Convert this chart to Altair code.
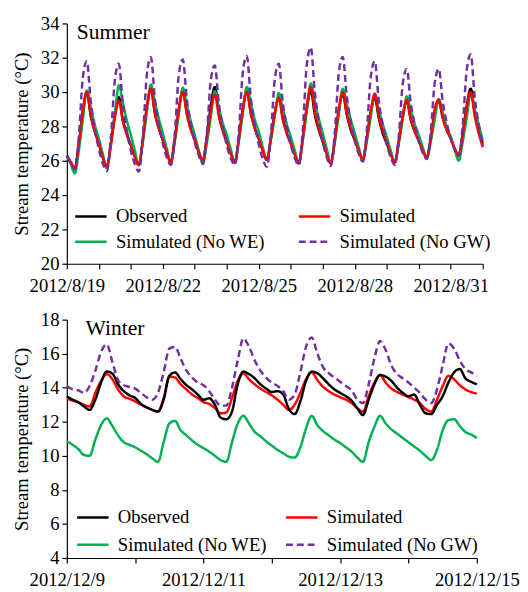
import json
import altair as alt
import numpy as np
import pandas as pd

FONT = "Liberation Serif"

series_names = ["Observed", "Simulated", "Simulated (No WE)", "Simulated (No GW)"]
series_colors = ["#000000", "#FF0000", "#00B050", "#7030A0"]
series_dashes = [[1, 0], [1, 0], [1, 0], [7, 4]]

summer_tick_labels = ["2012/8/19", "2012/8/22", "2012/8/25", "2012/8/28", "2012/8/31"]
winter_tick_labels = ["2012/12/9", "2012/12/11", "2012/12/13", "2012/12/15"]
panel_titles = ["Summer", "Winter"]

# ---- Summer: readings every 3 hours from 2012/8/19 00:00 ----
summer_observed = [
    26.3, 25.9, 25.55, 27.0, 28.9, 30.0, 28.6, 27.7,
    27.0, 26.2, 25.65, 27.0, 28.7, 29.7, 28.4, 27.6,
    26.9, 26.3, 25.75, 27.2, 29.1, 30.2, 28.8, 27.9,
    27.2, 26.5, 25.9, 27.3, 29.0, 30.1, 28.8, 27.9,
    27.2, 26.5, 26.0, 27.4, 29.2, 30.3, 28.9, 27.9,
    27.2, 26.5, 25.9, 27.3, 29.0, 30.1, 28.8, 27.9,
    27.3, 26.6, 26.05, 27.3, 28.8, 29.7, 28.5, 27.6,
    27.0, 26.4, 25.85, 27.3, 29.0, 30.1, 28.7, 27.8,
    27.1, 26.4, 25.85, 27.2, 28.9, 29.9, 28.7, 27.8,
    27.2, 26.6, 26.05, 27.3, 28.8, 29.7, 28.5, 27.6,
    27.0, 26.4, 25.9, 27.1, 28.6, 29.5, 28.4, 27.7,
    27.2, 26.6, 26.2, 27.3, 28.7, 29.5, 28.5, 27.8,
    27.3, 26.7, 26.3, 27.6, 29.2, 30.2, 28.8, 27.9,
    27.0,
]
summer_simulated = [
    26.3, 25.9, 25.55, 27.0, 28.9, 30.0, 28.6, 27.7,
    27.0, 26.2, 25.65, 26.9, 28.5, 29.5, 28.3, 27.5,
    26.9, 26.2, 25.75, 27.2, 29.1, 30.2, 28.8, 27.9,
    27.2, 26.5, 25.9, 27.25, 29.0, 30.0, 28.7, 27.8,
    27.2, 26.5, 26.0, 27.3, 28.9, 29.85, 28.6, 27.7,
    27.1, 26.4, 25.9, 27.25, 29.0, 30.0, 28.75, 27.9,
    27.25, 26.6, 26.05, 27.25, 28.75, 29.65, 28.4, 27.6,
    27.0, 26.35, 25.85, 27.3, 29.2, 30.3, 28.9, 27.9,
    27.2, 26.4, 25.85, 27.2, 29.0, 30.0, 28.75, 27.9,
    27.25, 26.6, 26.05, 27.3, 28.9, 29.9, 28.6, 27.75,
    27.1, 26.4, 25.9, 27.1, 28.6, 29.55, 28.45, 27.7,
    27.15, 26.6, 26.15, 27.3, 29.0, 29.55, 28.5, 27.8,
    27.3, 26.7, 26.3, 27.5, 29.1, 30.0, 28.6, 27.6,
    26.8,
]
summer_no_we = [
    26.3, 25.8, 25.27, 26.6, 28.4, 30.1, 29.1, 28.1,
    27.3, 26.4, 25.56, 26.9, 28.7, 30.4, 29.4, 28.35,
    27.5, 26.6, 25.75, 27.1, 28.8, 30.45, 29.45, 28.45,
    27.6, 26.7, 25.9, 27.1, 28.7, 30.25, 29.25, 28.3,
    27.5, 26.6, 25.8, 27.0, 28.55, 30.05, 29.1, 28.2,
    27.5, 26.65, 25.9, 27.1, 28.75, 30.3, 29.4, 28.4,
    27.7, 26.8, 26.05, 27.15, 28.6, 29.95, 29.05, 28.15,
    27.4, 26.6, 25.85, 27.15, 28.9, 30.5, 29.5, 28.45,
    27.6, 26.7, 25.85, 27.05, 28.7, 30.2, 29.3, 28.4,
    27.6, 26.8, 26.05, 27.1, 28.55, 29.9, 29.0, 28.15,
    27.4, 26.6, 25.9, 27.0, 28.4, 29.75, 28.95, 28.15,
    27.5, 26.8, 26.15, 27.1, 28.4, 29.6, 28.8, 28.0,
    27.4, 26.65, 26.0, 27.1, 28.5, 29.9, 29.0, 28.1,
    27.2,
]
summer_no_gw = [
    26.3, 25.9, 25.5, 27.4, 30.85, 31.8, 29.4, 27.8,
    26.7, 25.85, 25.4, 27.3, 30.7, 31.65, 29.3, 27.75,
    26.6, 25.8, 25.37, 27.4, 31.0, 32.05, 29.65, 28.15,
    27.0, 26.2, 25.75, 27.6, 31.0, 31.9, 29.6, 28.15,
    27.05, 26.3, 25.85, 27.55, 30.7, 31.55, 29.35, 27.95,
    26.9, 26.15, 25.75, 27.65, 31.15, 32.1, 29.65, 28.1,
    26.95, 26.1, 25.65, 27.45, 30.75, 31.65, 29.4, 28.0,
    26.95, 26.15, 25.75, 27.8, 31.6, 32.6, 30.0, 28.3,
    27.1, 26.2, 25.7, 27.6, 31.1, 32.05, 29.75, 28.25,
    27.15, 26.4, 25.95, 27.7, 30.9, 31.8, 29.5, 28.05,
    26.95, 26.2, 25.75, 27.4, 30.5, 31.35, 29.35, 28.1,
    27.15, 26.45, 26.1, 27.65, 30.55, 31.35, 29.45, 28.2,
    27.3, 26.65, 26.3, 28.05, 31.3, 32.2, 29.7, 28.1,
    26.9,
]

# ---- Winter: readings every 2 hours from 2012/12/9 00:00 ----
winter_observed = [
    13.5, 13.3, 13.15, 12.9, 12.7, 13.3, 14.3, 14.95, 14.83, 14.2, 13.8, 13.55,
    13.4, 13.05, 12.85, 12.7, 12.6, 13.3, 14.7, 14.9, 14.5, 14.15, 13.9, 13.6,
    13.3, 13.38, 13.0, 12.25, 12.15, 12.6, 14.2, 14.95, 14.8, 14.55, 14.2, 13.95,
    13.75, 13.8, 13.6, 12.75, 12.45, 13.2, 14.4, 14.95, 14.85, 14.55, 14.2, 13.9,
    13.7, 13.5, 13.25, 12.8, 12.4, 13.3, 14.2, 14.75, 14.65, 14.4, 14.0, 13.7,
    13.5, 13.6, 13.0, 12.5, 12.45, 13.0, 13.5, 14.3, 14.9, 15.1, 14.55, 14.35,
    14.2,
]
winter_simulated = [
    13.35, 13.25, 13.15, 13.0, 12.9, 13.7, 14.4, 14.8, 14.5, 13.9, 13.5, 13.35,
    13.2, 13.0, 12.85, 12.7, 12.6, 13.4, 14.65, 14.6, 14.2, 13.9, 13.6, 13.4,
    13.15, 13.05, 12.8, 12.5, 12.55, 13.4, 14.4, 14.85, 14.5, 14.2, 13.95, 13.75,
    13.55, 13.3, 13.0, 12.7, 13.0, 13.7, 14.5, 14.9, 14.45, 14.05, 13.8, 13.6,
    13.45, 13.3, 13.1, 12.8, 12.6, 13.5, 14.3, 14.75, 14.3, 13.95, 13.75, 13.6,
    13.45, 13.3, 13.1, 12.75, 12.6, 13.3, 14.1, 14.7, 14.5, 14.15, 13.9, 13.75,
    13.65,
]
winter_no_we = [
    10.85, 10.65, 10.4, 10.05, 10.0, 10.95, 11.8, 12.2, 11.75, 11.2, 10.8, 10.65,
    10.5, 10.3, 10.1, 9.85, 9.65, 10.8, 11.9, 12.05, 11.5, 11.2, 10.9, 10.65,
    10.45, 10.25, 10.0, 9.75, 9.65, 10.8, 11.9, 12.35, 11.9, 11.4, 11.15, 10.85,
    10.6, 10.35, 10.15, 9.95, 9.9, 10.5, 11.6, 12.35, 11.8, 11.45, 11.2, 10.95,
    10.75, 10.5, 10.25, 9.9, 9.65, 10.8, 11.7, 12.35, 11.9, 11.55, 11.3, 11.05,
    10.8, 10.55, 10.3, 10.0, 9.75, 10.35, 11.5, 12.1, 12.15, 11.75, 11.4, 11.25,
    11.05,
]
winter_no_gw = [
    14.1, 13.9, 13.85, 13.7, 14.1, 15.0, 16.1, 16.55, 15.5, 14.45, 14.15, 14.05,
    13.95, 13.7, 13.45, 13.3, 13.7, 14.9, 16.3, 16.4, 15.7, 15.0, 14.6, 14.3,
    14.15, 13.8, 13.3, 12.95, 12.95, 14.0, 15.6, 16.9, 16.4, 15.6, 15.0, 14.6,
    14.3, 14.1, 13.8, 13.3, 13.6, 14.9, 16.4, 16.95, 16.0, 15.2, 14.85, 14.6,
    14.35, 14.1, 13.85, 13.3, 13.1, 14.2, 15.7, 16.75, 16.2, 15.3, 14.8, 14.55,
    14.3, 14.0, 13.7, 13.3, 13.1, 13.9, 15.3, 16.6, 16.3, 15.6, 15.1, 14.9,
    14.7,
]


def long_frame(step_hours, named_series):
    rows = []
    for name, vals in named_series:
        for i, v in enumerate(vals):
            rows.append({"t": i * step_hours / 24.0, "v": v, "series": name})
    return pd.DataFrame(rows)


summer_df = long_frame(3, [
    ("Observed", summer_observed),
    ("Simulated (No WE)", summer_no_we),
    ("Simulated", summer_simulated),
    ("Simulated (No GW)", summer_no_gw),
])
winter_df = long_frame(2, [
    ("Simulated", winter_simulated),
    ("Observed", winter_observed),
    ("Simulated (No WE)", winter_no_we),
    ("Simulated (No GW)", winter_no_gw),
])


def make_legend(lx, ly, row_pad, col_pad):
    return alt.Legend(
        title=None, orient="none", legendX=lx, legendY=ly, columns=2,
        direction="horizontal",
        symbolType="M-2,0L2,0", symbolSize=256, symbolStrokeWidth=2.5,
        labelFont=FONT, labelFontSize=19, labelColor="black", labelOffset=16,
        labelLimit=400, rowPadding=row_pad, columnPadding=col_pad, padding=0,
    )


def panel(df, ndays, ydom, ystep, tick_labels, every, title, width, height,
          legend, title_x, title_y):
    label_expr = (
        f"datum.value % {every} == 0 ? {json.dumps(tick_labels)}"
        f"[round(datum.value / {every})] : ''"
    )
    xaxis = alt.Axis(
        values=list(range(ndays + 1)), labelExpr=label_expr, title=None,
        grid=False, tickSize=5, labelFlush=False, labelOverlap=False,
        labelPadding=8, labelFont=FONT, labelFontSize=19, labelColor="black",
    )
    yaxis = alt.Axis(
        values=list(range(ydom[0], ydom[1] + 1, ystep)),
        title="Stream temperature (°C)", grid=False, tickSize=5,
        labelPadding=3, titlePadding=9, labelFont=FONT, titleFont=FONT,
        labelFontSize=19, titleFontSize=19, titleFontWeight="normal",
        labelColor="black", titleColor="black",
    )
    lines = alt.Chart(df).mark_line(strokeWidth=2.5, interpolate="monotone").encode(
        x=alt.X("t:Q", scale=alt.Scale(domain=[0, ndays], nice=False, zero=False),
                axis=xaxis),
        y=alt.Y("v:Q", scale=alt.Scale(domain=list(ydom), nice=False, zero=False),
                axis=yaxis),
        color=alt.Color("series:N",
                        scale=alt.Scale(domain=series_names, range=series_colors),
                        legend=legend),
        strokeDash=alt.StrokeDash("series:N",
                                  scale=alt.Scale(domain=series_names,
                                                  range=series_dashes),
                                  legend=legend),
    )
    label = alt.Chart(pd.DataFrame({"name": [title]})).mark_text(
        align="left", baseline="alphabetic", font=FONT, fontSize=22, color="black"
    ).encode(x=alt.value(title_x), y=alt.value(title_y), text="name:N")
    return alt.layer(lines, label).properties(width=width, height=height)


summer = panel(summer_df, 13, (20, 34), 2, summer_tick_labels, 3, panel_titles[0],
               424, 245, make_legend(15, 187, 6, 29), 10, 16)
winter = panel(winter_df, 6, (4, 18), 2, winter_tick_labels, 2, panel_titles[1],
               418, 243, make_legend(17, 192, 8, 14), 19, 16)

chart = alt.vconcat(summer, winter, spacing=16).resolve_scale(
    color="independent", strokeDash="independent"
).properties(
    padding={"left": 5, "top": 1, "right": 0, "bottom": 0}
).configure_view(stroke=None).configure_axis(
    labelFont=FONT, titleFont=FONT, labelFontSize=19, titleFontSize=19,
    titleFontWeight="normal", labelColor="black", titleColor="black",
    domainColor="black", tickColor="black", domainWidth=1.2, tickWidth=1.2,
).configure_legend(labelFont=FONT)

chart.save("out.html", embed_options={"renderer": "svg", "actions": False})
